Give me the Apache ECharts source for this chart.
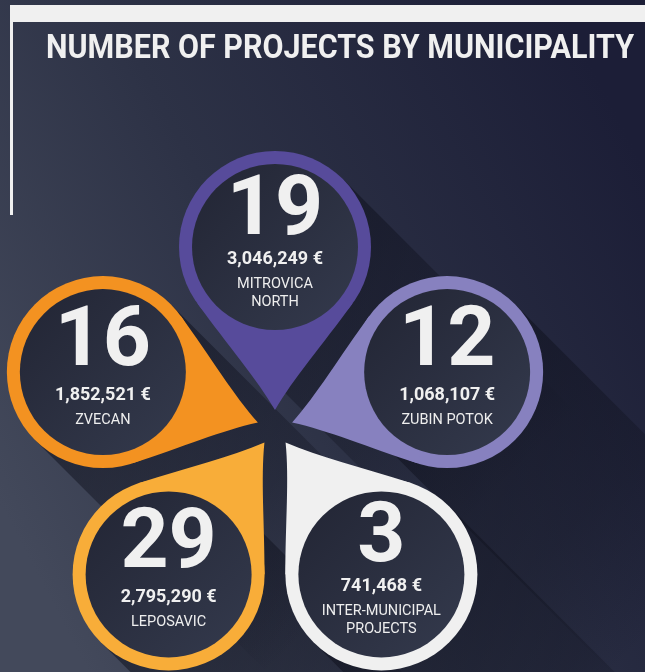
<!DOCTYPE html>
<html><head><meta charset="utf-8">
<script src="https://cdn.jsdelivr.net/npm/echarts@6/dist/echarts.min.js"></script>
<style>html,body{margin:0;padding:0;background:#2b3044}#c{width:645px;height:672px}</style>
</head><body><div id="c"></div>
<script>
// ---- data ----
const TITLE = 'NUMBER OF PROJECTS BY MUNICIPALITY';
const municipalities = ['MITROVICA\nNORTH', 'ZUBIN POTOK', 'INTER-MUNICIPAL\nPROJECTS', 'LEPOSAVIC', 'ZVECAN'];
const projects = [19, 12, 3, 29, 16];
const amounts = [3046249, 1068107, 741468, 2795290, 1852521];
const pinColors = ['#574b9b', '#8781bf', '#f0f0f0', '#f8ad39', '#f39221'];

// ---- layout ----
const PIN_DIST = 181, TIP_DIST = 18, R_OUT = 96, R_IN = 83, SHADOW_LEN = 330;
const FONT = 'Roboto, "Noto Sans", sans-serif';

function fmt(v) { return v.toString().replace(/\B(?=(\d{3})+(?!\d))/g, ',') + ' €'; }

function measure(text, font) {
  const cv = document.createElement('canvas').getContext('2d');
  cv.font = font; return cv.measureText(text).width;
}
const titleFont = 'bold 33px Roboto';
const titleScale = 588 / measure(TITLE, titleFont);

const chart = echarts.init(document.getElementById('c'), null, {renderer: 'canvas'});
const pinData = municipalities.map((m, i) => [PIN_DIST, i]);

function shadowItem(params, api) {
  const c = api.coord([api.value(0), api.value(1)]);
  const s = Math.SQRT1_2;
  const d = [s, s], n = [s, -s];
  const pts = [
    [c[0] + R_OUT * n[0], c[1] + R_OUT * n[1]],
    [c[0] + R_OUT * n[0] + SHADOW_LEN * d[0], c[1] + R_OUT * n[1] + SHADOW_LEN * d[1]],
    [c[0] - R_OUT * n[0] + SHADOW_LEN * d[0], c[1] - R_OUT * n[1] + SHADOW_LEN * d[1]],
    [c[0] - R_OUT * n[0], c[1] - R_OUT * n[1]]
  ];
  return {
    type: 'polygon', shape: {points: pts},
    style: {fill: new echarts.graphic.LinearGradient(c[0], c[1], c[0] + SHADOW_LEN * d[0], c[1] + SHADOW_LEN * d[1], [
      {offset: 0, color: 'rgba(14,16,28,0.55)'},
      {offset: 0.6, color: 'rgba(14,16,28,0.3)'},
      {offset: 1, color: 'rgba(14,16,28,0)'}], true)}
  };
}

function pinItem(params, api) {
  const i = params.dataIndex;
  const c = api.coord([api.value(0), api.value(1)]);
  const t = api.coord([TIP_DIST, api.value(1)]);
  const dx = t[0] - c[0], dy = t[1] - c[1];
  const D = Math.hypot(dx, dy);
  const u = [dx / D, dy / D];
  const a = Math.acos(R_OUT / D);
  function side(sg) {
    const ca = Math.cos(sg * a), sa = Math.sin(sg * a);
    const r = [u[0] * ca - u[1] * sa, u[0] * sa + u[1] * ca];
    const P = [c[0] + R_OUT * r[0], c[1] + R_OUT * r[1]];
    const C1 = [P[0] + 0.4 * (t[0] - P[0]), P[1] + 0.4 * (t[1] - P[1])];
    let C2 = [t[0] + 0.3 * (P[0] - t[0]), t[1] + 0.3 * (P[1] - t[1])];
    const proj = (C2[0] - c[0]) * u[0] + (C2[1] - c[1]) * u[1];
    const A = [c[0] + u[0] * proj, c[1] + u[1] * proj];
    C2 = [C2[0] + (A[0] - C2[0]) * 0.2, C2[1] + (A[1] - C2[1]) * 0.2];
    return {P, C1, C2};
  }
  const s1 = side(1), s2 = side(-1);
  const f = p => p[0].toFixed(2) + ' ' + p[1].toFixed(2);
  const path = 'M ' + f(c) + ' L ' + f(s1.P) + ' C ' + f(s1.C1) + ' ' + f(s1.C2) + ' ' + f(t) +
    ' C ' + f(s2.C2) + ' ' + f(s2.C1) + ' ' + f(s2.P) + ' Z';
  const color = pinColors[i];
  const name = municipalities[i];
  const k = name.split('\n').length;
  const yNum = c[1] - 28 - 6 * (k - 1);
  const yAmt = c[1] + 23 - 11 * (k - 1);
  const yName = c[1] + 48 - 11 * (k - 1) - 9;
  return {
    type: 'group',
    children: [
      {type: 'circle', shape: {cx: c[0], cy: c[1], r: R_OUT}, style: {fill: color}},
      {type: 'path', shape: {pathData: path}, style: {fill: color}},
      {type: 'circle', shape: {cx: c[0], cy: c[1], r: R_IN},
        style: {fill: new echarts.graphic.LinearGradient(c[0] - R_IN, c[1] - R_IN, c[0] + R_IN, c[1] + R_IN, [
          {offset: 0, color: '#222534'}, {offset: 1, color: '#343a4d'}], true)}},
      {type: 'text', style: {text: String(projects[i]), x: c[0], y: yNum, align: 'center', verticalAlign: 'middle',
        fill: '#f0f0f0', fontSize: 84, fontWeight: 'bold', fontFamily: FONT}},
      {type: 'text', style: {text: fmt(amounts[i]), x: c[0], y: yAmt, align: 'center', verticalAlign: 'middle',
        fill: '#f0f0f0', fontSize: 18, fontWeight: 'bold', fontFamily: FONT}},
      {type: 'text', style: {text: name, x: c[0], y: yName, align: 'center', verticalAlign: 'top', lineHeight: 18,
        fill: '#eeeeee', fontSize: 14.5, fontWeight: 'normal', fontFamily: FONT}}
    ]
  };
}

chart.setOption({
  backgroundColor: {type: 'linear', x: 0, y: 0.75, x2: 1, y2: 0.25, colorStops: [
    {offset: 0, color: '#43495b'}, {offset: 0.45, color: '#2d3246'}, {offset: 1, color: '#1c1e37'}]},
  animation: false,
  polar: {center: [275, 428], radius: 200},
  radiusAxis: {type: 'value', min: 0, max: 200, show: false},
  angleAxis: {type: 'category', data: municipalities, startAngle: 90, clockwise: true, boundaryGap: false, show: false},
  graphic: [
    {type: 'rect', shape: {x: 10, y: 5, width: 640, height: 17}, style: {fill: '#f0f0f0'}},
    {type: 'rect', shape: {x: 10, y: 22, width: 3, height: 193}, style: {fill: '#f0f0f0'}},
    {type: 'text', x: 46, y: 50, scaleX: titleScale, style: {text: TITLE, x: 0, y: 0, align: 'left', verticalAlign: 'middle',
      fill: '#f0f0f0', font: titleFont}}
  ],
  series: [
    {type: 'custom', coordinateSystem: 'polar', encode: {radius: 0, angle: 1}, data: pinData, renderItem: shadowItem, z: 1, silent: true},
    {type: 'custom', coordinateSystem: 'polar', encode: {radius: 0, angle: 1}, data: pinData, renderItem: pinItem, z: 2}
  ]
});
</script></body></html>
